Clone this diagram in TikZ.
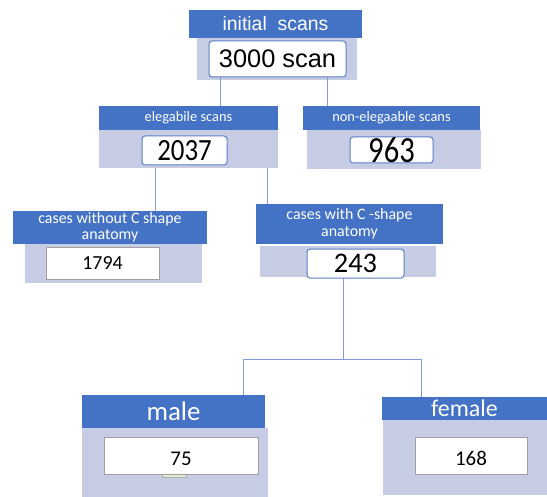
\documentclass[tikz,border=0pt]{standalone}
\usepackage{fontspec}
\setmainfont{Carlito}
\newfontfamily\arialf{Liberation Sans}
\definecolor{hdblue}{HTML}{4472C4}
\definecolor{lightbg}{HTML}{C5CCE3}
\definecolor{linec}{HTML}{7F9DD3}
\definecolor{innerblue}{HTML}{5B7FC7}
\definecolor{smallg}{HTML}{E2E6D2}
\begin{document}
\begin{tikzpicture}[x=1bp,y=-1bp,
  hdr/.style={fill=hdblue,text=white,inner sep=0pt,outer sep=0pt,align=center},
  lt/.style={fill=lightbg,inner sep=0pt,outer sep=0pt},
  inb/.style={fill=white,draw=innerblue,line width=1bp,rounded corners=3bp,inner sep=0pt,outer sep=0pt},
  ing/.style={fill=white,draw=gray!75,line width=0.8bp,inner sep=0pt,outer sep=0pt},
  conn/.style={draw=linec,line width=1bp}]
\useasboundingbox (0,0) rectangle (547,497);
% light boxes
\node[lt,minimum width=160bp,minimum height=42bp] (toplt) at (277,59) {};
\node[lt,minimum width=179bp,minimum height=38bp] (eleglt) at (188.5,149) {};
\node[lt,minimum width=174bp,minimum height=39bp] (nonlt) at (394,149.5) {};
\node[lt,minimum width=177bp,minimum height=39bp] (wolt) at (113.5,263.5) {};
\node[lt,minimum width=176bp,minimum height=31bp] (wlt) at (348,261.5) {};
\node[lt,minimum width=186bp,minimum height=69bp] (mlt) at (175,462.5) {};
\node[lt,minimum width=164bp,minimum height=75bp] (flt) at (465,457.5) {};
% headers
\node[hdr,minimum width=173bp,minimum height=28bp,font=\arialf\fontsize{19.5}{22}\selectfont] (tophd) at (275.5,24) {initial\ \ scans};
\node[hdr,minimum width=179bp,minimum height=24bp,font=\fontsize{14.5}{16}\selectfont] (eleghd) at (188.5,118) {elegabile scans};
\node[hdr,minimum width=177bp,minimum height=24bp,font=\fontsize{14.5}{16}\selectfont] (nonhd) at (391.5,118) {non-elegaable scans};
\node[hdr,minimum width=194bp,minimum height=33bp,font=\fontsize{16}{16.5}\selectfont] (wohd) at (110,227.5) {cases without C shape\\anatomy};
\node[hdr,minimum width=187bp,minimum height=40bp,font=\fontsize{16}{17}\selectfont] (whd) at (349.5,224) {cases with C -shape\\anatomy};
\node[hdr,minimum width=183bp,minimum height=33bp,font=\fontsize{27}{28}\selectfont] (mhd) at (173.5,411.5) {male};
\node[hdr,minimum width=165bp,minimum height=23bp,font=\fontsize{24}{25}\selectfont] (fhd) at (464.5,408.5) {female};
% connectors
\coordinate (c1) at (220,0);
\coordinate (c2) at (327,0);
\coordinate (c3) at (155,0);
\coordinate (c4) at (267,0);
\coordinate (jn) at (343,359);
\coordinate (mx) at (243,359);
\coordinate (fx) at (421,359);
\draw[conn] (c1 |- toplt.south) -- (c1 |- eleghd.north);
\draw[conn] (c2 |- toplt.south) -- (c2 |- nonhd.north);
\draw[conn] (c3 |- eleglt.south) -- (c3 |- wohd.north);
\draw[conn] (c4 |- eleglt.south) -- (c4 |- whd.north);
% inner boxes
\node[inb,minimum width=137bp,minimum height=36bp,font=\arialf\fontsize{25.5}{27}\selectfont] (topin) at (277.5,59) {3000 scan};
\draw[conn] (c1 |- topin.south) -- (c1 |- toplt.south);
\draw[conn] (c2 |- topin.south) -- (c2 |- toplt.south);
\node[inb,minimum width=85bp,minimum height=29bp,font=\fontsize{31}{32}\selectfont] (elegin) at (184.5,150.5) {\scalebox{0.87}[1]{2037}};
\node[inb,minimum width=83bp,minimum height=26bp,font=\fontsize{37}{38}\selectfont] (nonin) at (391.5,150) {\scalebox{0.83}[1]{963}};
\node[ing,minimum width=113bp,minimum height=32bp,font=\fontsize{20}{22}\selectfont] (woin) at (102.5,263) {1794};
\node[inb,minimum width=97bp,minimum height=29bp,font=\fontsize{28.5}{30}\selectfont] (win) at (355.5,263.5) {243};
\draw[conn] (jn |- win.south) -- (jn);
\draw[conn] (mx |- mhd.north) -- (mx) -- (fx) -- (fx |- fhd.north);
\draw[draw=gray!60,fill=smallg,line width=0.5bp] (162,474) rectangle (186,477.5);
\node[ing,minimum width=154bp,minimum height=37bp,text height=19.5bp,text depth=0bp,font=\fontsize{21}{22}\selectfont] (min) at (181,455.5) {75};
\node[ing,minimum width=112bp,minimum height=37bp,text height=19.5bp,text depth=0bp,font=\fontsize{21}{22}\selectfont] (fin) at (471,455.5) {168};
\end{tikzpicture}
\end{document}
